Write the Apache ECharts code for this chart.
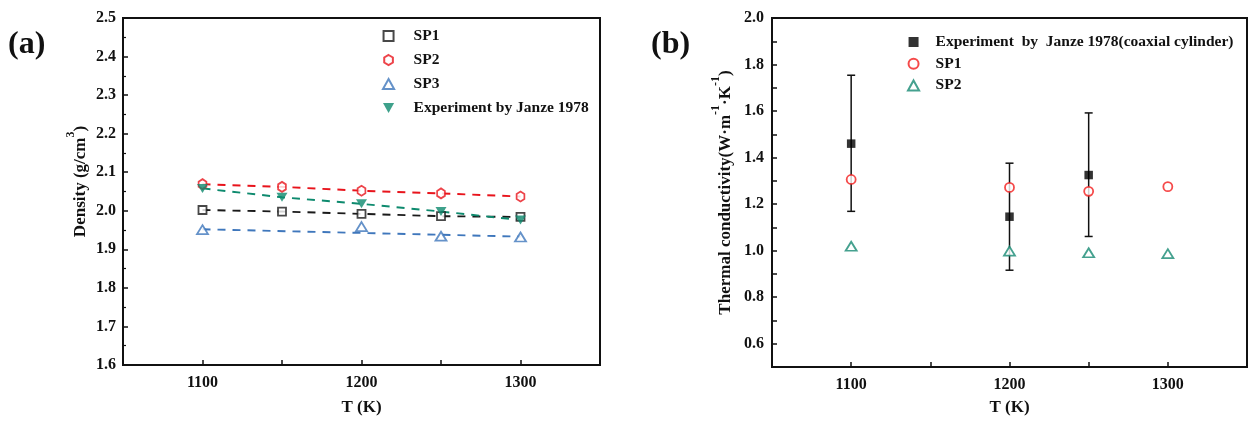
<!DOCTYPE html>
<html>
<head>
<meta charset="utf-8">
<script src="https://cdn.jsdelivr.net/npm/echarts@6/dist/echarts.min.js"></script>
<style>
  html, body { margin: 0; padding: 0; background: #fff; }
  #main { width: 1250px; height: 421px; }
</style>
</head>
<body>
<div id="main"></div>
<script>
// panel (a): density
var tempA = [1100, 1150, 1200, 1250, 1300];
var sp1A = [2.002, 1.998, 1.992, 1.986, 1.984];
var sp2A = [2.069, 2.062, 2.052, 2.045, 2.037];
var sp3T = [1100, 1200, 1250, 1300];
var sp3A = [1.951, 1.959, 1.934, 1.932];
var sp3FitT = [1100, 1300];
var sp3FitA = [1.952, 1.933];
var expA = [2.058, 2.035, 2.018, 1.998, 1.976];

// panel (b): thermal conductivity
var tempB = [1100, 1200, 1250, 1300];
var expT = [1100, 1200, 1250];
var expB = [1.460, 1.146, 1.325];
var expLow = [1.169, 0.916, 1.061];
var expHigh = [1.754, 1.376, 1.592];
var sp1B = [1.306, 1.272, 1.255, 1.275];
var sp2B = [1.019, 0.998, 0.991, 0.987];

var legendNames = {
  'b-exp': 'Experiment  by  Janze 1978(coaxial cylinder)',
  'b-sp1': 'SP1',
  'b-sp2': 'SP2'
};

function pairs(xs, ys) {
  return xs.map(function (x, i) { return [x, ys[i]]; });
}

var SERIF = '"Liberation Serif", "Times New Roman", serif';
var INK = '#111';

var SQUARE = 'path://M0,0 L10,0 L10,10 L0,10 Z';
var CIRCLE = 'path://M0,5 A5,5 0 1 0 10,5 A5,5 0 1 0 0,5 Z';
var TRI_UP = 'path://M5,0 L10,9 L0,9 Z';
var TRI_DOWN = 'path://M0,0 L10,0 L5,9 Z';
var HEXAGON = 'path://M5,0 L9.33,2.5 L9.33,7.5 L5,10 L0.67,7.5 L0.67,2.5 Z';

function xAxisFor(idx, gap) {
  return {
    type: 'value', gridIndex: idx, min: 1050, max: 1350, interval: 50,
    name: 'T (K)', nameLocation: 'middle', nameGap: gap,
    nameTextStyle: { fontFamily: SERIF, fontWeight: 'bold', fontSize: 17, color: INK },
    axisLine: { lineStyle: { color: INK, width: 2 } },
    axisTick: { inside: true, length: 5, lineStyle: { color: INK, width: 1.5 } },
    axisLabel: {
      margin: 10, fontFamily: SERIF, fontWeight: 'bold', fontSize: 16, color: INK,
      formatter: function (v) { return v % 100 === 0 ? String(v) : ''; }
    },
    splitLine: { show: false }
  };
}

function dashed(name, data, color) {
  return {
    name: name, type: 'line', xAxisIndex: 0, yAxisIndex: 0, data: data,
    showSymbol: false, silent: true, z: 1,
    lineStyle: { color: color, width: 1.9, type: [8, 7] }
  };
}

function marks(name, data, symbol, size, color, filled, grid) {
  return {
    name: name, type: 'scatter', xAxisIndex: grid, yAxisIndex: grid, data: data,
    symbol: symbol, symbolSize: size, symbolKeepAspect: true, z: 3,
    itemStyle: {
      color: filled ? color : '#fff',
      borderColor: color,
      borderWidth: filled ? 0 : 1.8
    }
  };
}

function renderErrorBar(params, api) {
  var x = api.value(0);
  var lo = api.coord([x, api.value(1)]);
  var hi = api.coord([x, api.value(2)]);
  var cap = 4;
  var style = { stroke: INK, lineWidth: 1.5, fill: null };
  return {
    type: 'group',
    children: [
      { type: 'line', shape: { x1: hi[0], y1: hi[1], x2: lo[0], y2: lo[1] }, style: style },
      { type: 'line', shape: { x1: hi[0] - cap, y1: hi[1], x2: hi[0] + cap, y2: hi[1] }, style: style },
      { type: 'line', shape: { x1: lo[0] - cap, y1: lo[1], x2: lo[0] + cap, y2: lo[1] }, style: style }
    ]
  };
}

var legendText = { fontFamily: SERIF, fontWeight: 'bold', fontSize: 15.5, color: INK, lineHeight: 16 };

var myChart = echarts.init(document.getElementById('main'));

var option = {
  backgroundColor: '#fff',
  animation: false,
  title: [
    { text: '(a)', left: 3, top: 24, textStyle: { fontFamily: SERIF, fontWeight: 'bold', fontSize: 32, color: INK } },
    { text: '(b)', left: 646, top: 24, textStyle: { fontFamily: SERIF, fontWeight: 'bold', fontSize: 32, color: INK } }
  ],
  grid: [
    { left: 123, top: 18, width: 477, height: 349, show: true, borderColor: INK, borderWidth: 2 },
    { left: 772, top: 18, width: 477, height: 352, show: true, borderColor: INK, borderWidth: 2 }
  ],
  legend: [
    {
      left: 377, top: 23, orient: 'vertical', itemWidth: 40, itemHeight: 10, itemGap: 8,
      data: ['SP1', 'SP2', 'SP3', 'Experiment by Janze 1978'],
      textStyle: legendText, selectedMode: false
    },
    {
      left: 902, top: 29, orient: 'vertical', itemWidth: 34, itemHeight: 10, itemGap: 5.7,
      data: ['b-exp', 'b-sp1', 'b-sp2'],
      formatter: function (n) { return legendNames[n]; },
      textStyle: legendText, selectedMode: false
    }
  ],
  xAxis: [xAxisFor(0, 34), xAxisFor(1, 32)],
  yAxis: [
    {
      type: 'value', gridIndex: 0, min: 1.6, max: 2.5, interval: 0.1,
      name: '{t|Density (g/cm}{s|3}{t|)}', nameLocation: 'middle', nameGap: 34, nameRotate: 90,
      nameTextStyle: {
        padding: [0, 0, 0, 20],
        rich: {
          t: { fontFamily: SERIF, fontWeight: 'bold', fontSize: 17, color: INK, lineHeight: 24, verticalAlign: 'bottom' },
          s: { fontFamily: SERIF, fontWeight: 'bold', fontSize: 12, color: INK, lineHeight: 24, verticalAlign: 'top' }
        }
      },
      axisLine: { lineStyle: { color: INK, width: 2 } },
      axisTick: { inside: true, length: 5, lineStyle: { color: INK, width: 1.5 } },
      minorTick: { show: true, splitNumber: 2, length: 3, lineStyle: { color: INK, width: 1.2 } },
      axisLabel: {
        margin: 7, fontFamily: SERIF, fontWeight: 'bold', fontSize: 16, color: INK,
        formatter: function (v) { return v.toFixed(1); }
      },
      splitLine: { show: false }
    },
    {
      type: 'value', gridIndex: 1, min: 0.5, max: 2.0, interval: 0.1,
      name: '{t|Thermal conductivity(W·m}{s|-1}{t|·K}{s|-1}{t|)}', nameLocation: 'middle', nameGap: 38, nameRotate: 90,
      nameTextStyle: {
        rich: {
          t: { fontFamily: SERIF, fontWeight: 'bold', fontSize: 17, color: INK, lineHeight: 24, verticalAlign: 'bottom' },
          s: { fontFamily: SERIF, fontWeight: 'bold', fontSize: 12, color: INK, lineHeight: 24, verticalAlign: 'top' }
        }
      },
      axisLine: { lineStyle: { color: INK, width: 2 } },
      axisTick: { inside: true, length: 5, lineStyle: { color: INK, width: 1.5 } },
      axisLabel: {
        margin: 8, fontFamily: SERIF, fontWeight: 'bold', fontSize: 16, color: INK,
        formatter: function (v) { return Math.round(v * 10) % 2 === 0 ? v.toFixed(1) : ''; }
      },
      splitLine: { show: false }
    }
  ],
  series: [
    dashed('fit-sp1', pairs(tempA, sp1A), '#1a1a1a'),
    dashed('fit-sp2', pairs(tempA, sp2A), '#e8141c'),
    dashed('fit-sp3', pairs(sp3FitT, sp3FitA), '#3f77bc'),
    dashed('fit-exp', pairs(tempA, expA), '#0e8a6e'),
    marks('SP1', pairs(tempA, sp1A), SQUARE, [8, 8], '#1a1a1a', false, 0),
    marks('SP2', pairs(tempA, sp2A), HEXAGON, [9, 10], '#e8141c', false, 0),
    marks('SP3', pairs(sp3T, sp3A), TRI_UP, [11, 10], '#3f77bc', false, 0),
    marks('Experiment by Janze 1978', pairs(tempA, expA), TRI_DOWN, [11, 10], '#0e8a6e', true, 0),
    {
      name: 'err', type: 'custom', xAxisIndex: 1, yAxisIndex: 1, silent: true, z: 2,
      renderItem: renderErrorBar,
      encode: { x: 0, y: [1, 2] },
      data: expT.map(function (t, i) { return [t, expLow[i], expHigh[i]]; })
    },
    marks('b-exp', pairs(expT, expB), SQUARE, [8.5, 8.5], '#000', true, 1),
    marks('b-sp1', pairs(tempB, sp1B), CIRCLE, [9, 9], '#f21d1d', false, 1),
    marks('b-sp2', pairs(tempB, sp2B), TRI_UP, [11, 10], '#168a73', false, 1)
  ]
};

myChart.setOption(option);
</script>
</body>
</html>
